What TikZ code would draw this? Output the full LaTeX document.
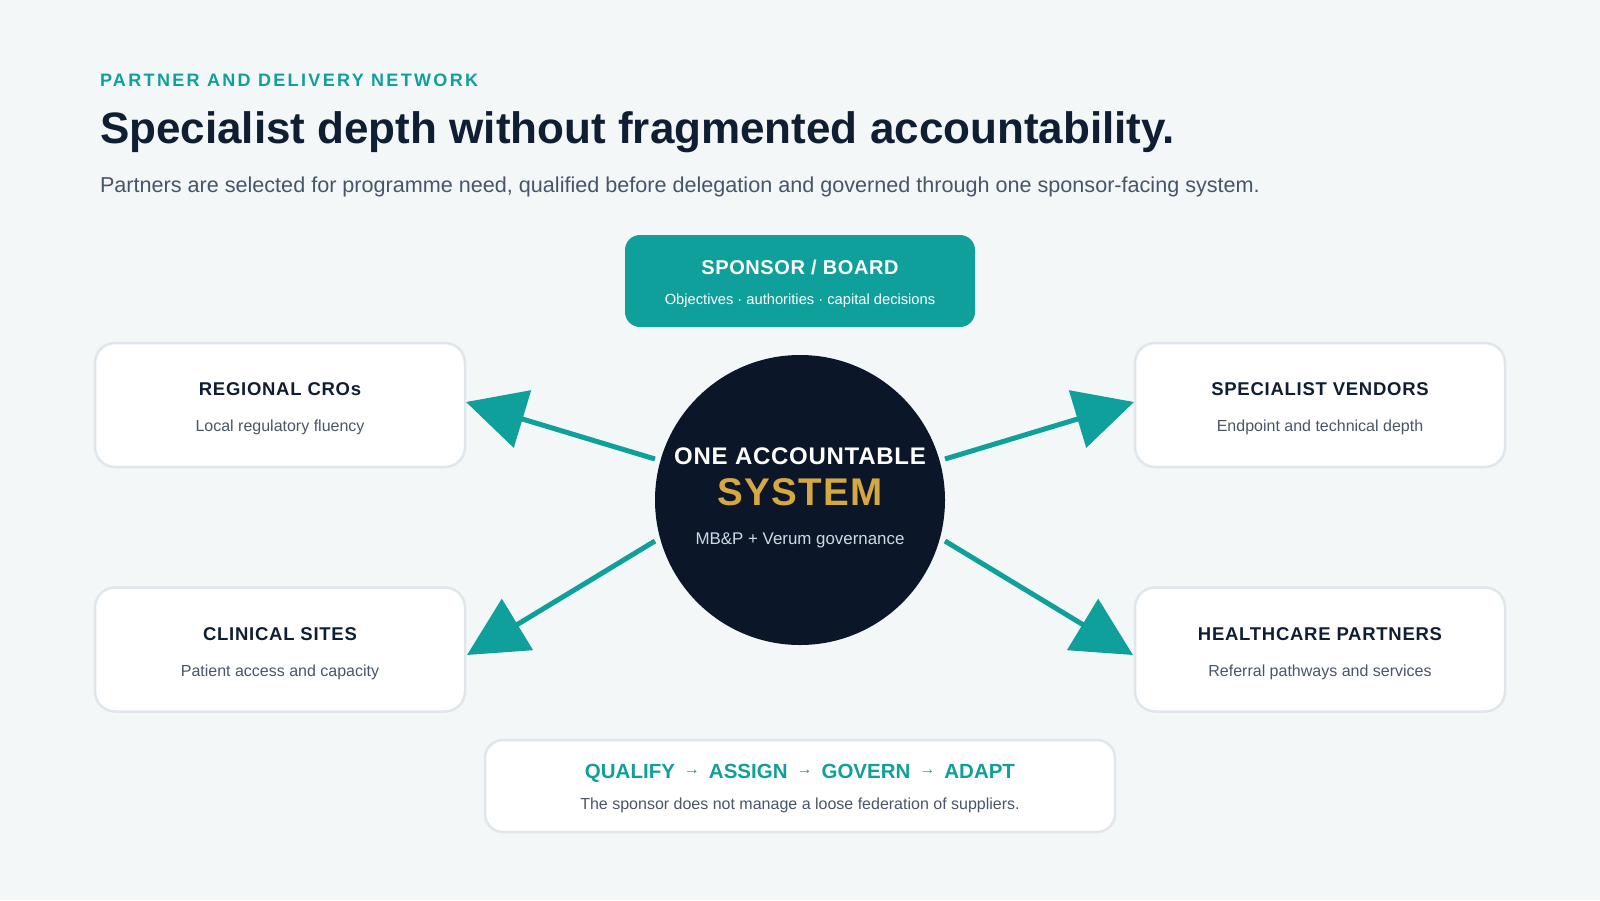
\documentclass[tikz,border=0pt]{standalone}
\usepackage{fontspec}
\setmainfont{Liberation Sans}
\newfontfamily\eyefont[LetterSpace=13]{Liberation Sans}
\newfontfamily\capfont[LetterSpace=4]{Liberation Sans}
\newfontfamily\capfontb[LetterSpace=3]{Liberation Sans}
\usetikzlibrary{arrows.meta}
\definecolor{bg}{HTML}{F3F7F8}
\definecolor{teal}{HTML}{0FA09B}
\definecolor{navy}{HTML}{0F1E33}
\definecolor{slate}{HTML}{475569}
\definecolor{slatesub}{HTML}{4A5568}
\definecolor{core}{HTML}{0B1628}
\definecolor{gold}{HTML}{D6A842}
\definecolor{pale}{HTML}{D0D8E2}
\definecolor{cardline}{HTML}{DFE6EC}
\newcommand{\fsz}[1]{\fontsize{#1}{#1}\selectfont}
\newcommand{\steparrow}{\hspace{9pt}\raisebox{4pt}{\fontsize{16}{16}\selectfont →}\hspace{9pt}}
\tikzset{
  txt/.style={inner sep=0pt, outer sep=0pt, anchor=base},
  card/.style={draw=cardline, line width=2.5pt, fill=white, rounded corners=20pt, inner sep=0pt},
  cardtitle/.style={txt, text=navy, font=\capfont\bfseries\fsz{18.5}},
  cardsub/.style={txt, text=slatesub, font=\fsz{16}},
  arr/.style={draw=teal, line width=5pt, -{Triangle[length=59pt,width=59pt]}},
}
\begin{document}
\begin{tikzpicture}[x=1pt,y=-1pt]
\useasboundingbox (0,0) rectangle (1600,900);
\fill[bg] (0,0) rectangle (1600,900);

% header
\node[txt, anchor=base west, text=teal, font=\eyefont\bfseries\fsz{18}] (eyebrow) at (100,86) {PARTNER AND DELIVERY NETWORK};
\node[txt, anchor=base west, text=navy, font=\bfseries\fsz{44}] (title) at (100,143) {Specialist depth without fragmented accountability.};
\node[txt, anchor=base west, text=slate, font=\fsz{21.6}] (subtitle) at (100,192) {Partners are selected for programme need, qualified before delegation and governed through one sponsor-facing system.};

% sponsor box
\node[fill=teal, rounded corners=15pt, minimum width=350pt, minimum height=92pt, inner sep=0pt] (sponsor) at (800,281) {};
\node[txt, text=white, font=\capfontb\bfseries\fsz{20}] (sponsorT) at (800,274) {SPONSOR / BOARD};
\node[txt, text=white, font=\fsz{14.7}] (sponsorS) at (800,304) {Objectives · authorities · capital decisions};

% central circle
\node[circle, fill=core, minimum size=290pt, inner sep=0pt] (core) at (800,500) {};
\node[txt, text=white, font=\capfontb\bfseries\fsz{24}] (coreA) at (800,464) {ONE ACCOUNTABLE};
\node[txt, text=gold, font=\capfontb\bfseries\fsz{38.6}] (coreB) at (800,505) {SYSTEM};
\node[txt, text=pale, font=\fsz{16.9}] (coreC) at (800,544) {MB\&P + Verum governance};

% cards
\node[card, minimum width=370pt, minimum height=124pt] (cro) at (280,405) {};
\node[cardtitle] (croT) at (280,395) {REGIONAL CROs};
\node[cardsub] (croS) at (280,431) {Local regulatory fluency};

\node[card, minimum width=370pt, minimum height=124pt] (vend) at (1320,405) {};
\node[cardtitle] (vendT) at (1320,395) {SPECIALIST VENDORS};
\node[cardsub] (vendS) at (1320,431) {Endpoint and technical depth};

\node[card, minimum width=370pt, minimum height=124pt] (sites) at (280,649.5) {};
\node[cardtitle] (sitesT) at (280,640) {CLINICAL SITES};
\node[cardsub] (sitesS) at (280,676) {Patient access and capacity};

\node[card, minimum width=370pt, minimum height=124pt] (hc) at (1320,649.5) {};
\node[cardtitle] (hcT) at (1320,640) {HEALTHCARE PARTNERS};
\node[cardsub] (hcS) at (1320,676) {Referral pathways and services};

% bottom box
\node[card, rounded corners=18pt, minimum width=630pt, minimum height=92pt] (loop) at (800,786) {};
\node[txt, text=teal, font=\bfseries\fsz{20.5}] (loopT) at (800,778) {QUALIFY\steparrow ASSIGN\steparrow GOVERN\steparrow ADAPT};
\node[txt, text=slatesub, font=\fsz{16}] (loopS) at (800,809.5) {The sponsor does not manage a loose federation of suppliers.};

% arrows
\coordinate (s1) at (655,459);
\coordinate (s2) at (945,459);
\coordinate (s3) at (655,541);
\coordinate (s4) at (945,541);
\coordinate (t1) at (466,402);
\coordinate (t2) at (1134,402);
\coordinate (t3) at (467,655);
\coordinate (t4) at (1133,655);
\draw[arr] (s1) -- (t1);
\draw[arr] (s2) -- (t2);
\draw[arr] (s3) -- (t3);
\draw[arr] (s4) -- (t4);
\end{tikzpicture}
\end{document}
